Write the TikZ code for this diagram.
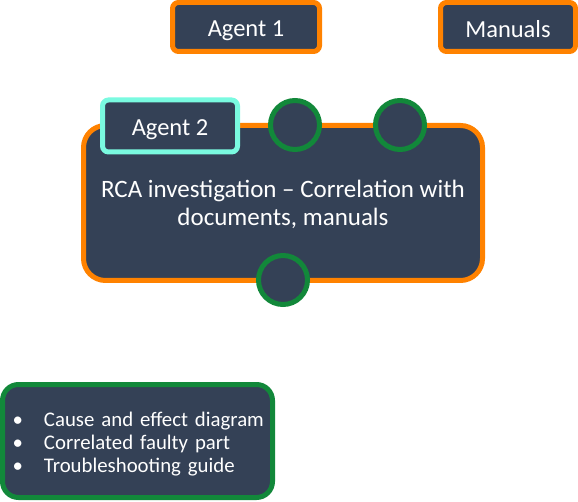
\documentclass[tikz,border=0pt]{standalone}
\usepackage{fontspec}
\setmainfont{Carlito}
\usetikzlibrary{positioning}
\definecolor{boxFill}{RGB}{52,65,86}
\definecolor{agentOrange}{RGB}{255,130,0}
\definecolor{portGreen}{RGB}{18,136,58}
\definecolor{agentCyan}{RGB}{122,250,224}
\newcommand{\lowerby}[2]{\raisebox{-#1}[\height][\depth]{#2}}

\begin{document}
\begin{tikzpicture}[
    x=1pt, y=-1pt,
    box/.style={
        rectangle, rounded corners=6pt, draw=agentOrange, line width=5pt,
        fill=boxFill, text=white, font=\fontsize{24.5}{28}\selectfont,
        align=center, inner sep=0pt
    },
    mainbox/.style={
        box, rounded corners=22pt, font=\fontsize{25}{28}\selectfont,
        minimum width=399pt, minimum height=155pt
    },
    tagbox/.style={
        box, draw=agentCyan, minimum width=135pt, minimum height=52pt
    },
    outbox/.style={
        box, draw=portGreen, rounded corners=16pt, align=left,
        font=\fontsize{20.8}{23}\selectfont, text width=270pt,
        minimum height=113pt
    },
    port/.style={
        circle, draw=portGreen, line width=5pt, fill=boxFill,
        minimum size=49pt, inner sep=0pt
    }
]
\useasboundingbox (0,0) rectangle (578,502);

\node[box, minimum width=147pt, minimum height=49pt] (agent1) at (246,27) {\lowerby{3.5pt}{Agent 1}};
\node[box, minimum width=135pt, minimum height=49pt] (manuals) at (508,27) {\lowerby{2pt}{Manuals}};

\node[mainbox] (rca) at (283,203) {\lowerby{2.5pt}{\begin{tabular}{@{}c@{}}RCA investigation -- Correlation with\\documents, manuals\end{tabular}}};
\node[tagbox] (agent2) at (170,126) {\lowerby{3.5pt}{Agent 2}};

\node[port] (inA) at (295,125) {};
\node[port] (inB) at (400,125) {};
\node[port] (outP) at (283,280) {};

\node[outbox] (result) at (137.5,441) {\lowerby{4pt}{\begin{tabular}{@{}l@{}}
\hspace*{10pt}\makebox[31.5pt][l]{\textbullet}Cause and effect diagram\\
\hspace*{10pt}\makebox[31.5pt][l]{\textbullet}Correlated faulty part\\
\hspace*{10pt}\makebox[31.5pt][l]{\textbullet}Troubleshooting guide
\end{tabular}}};

\end{tikzpicture}
\end{document}
